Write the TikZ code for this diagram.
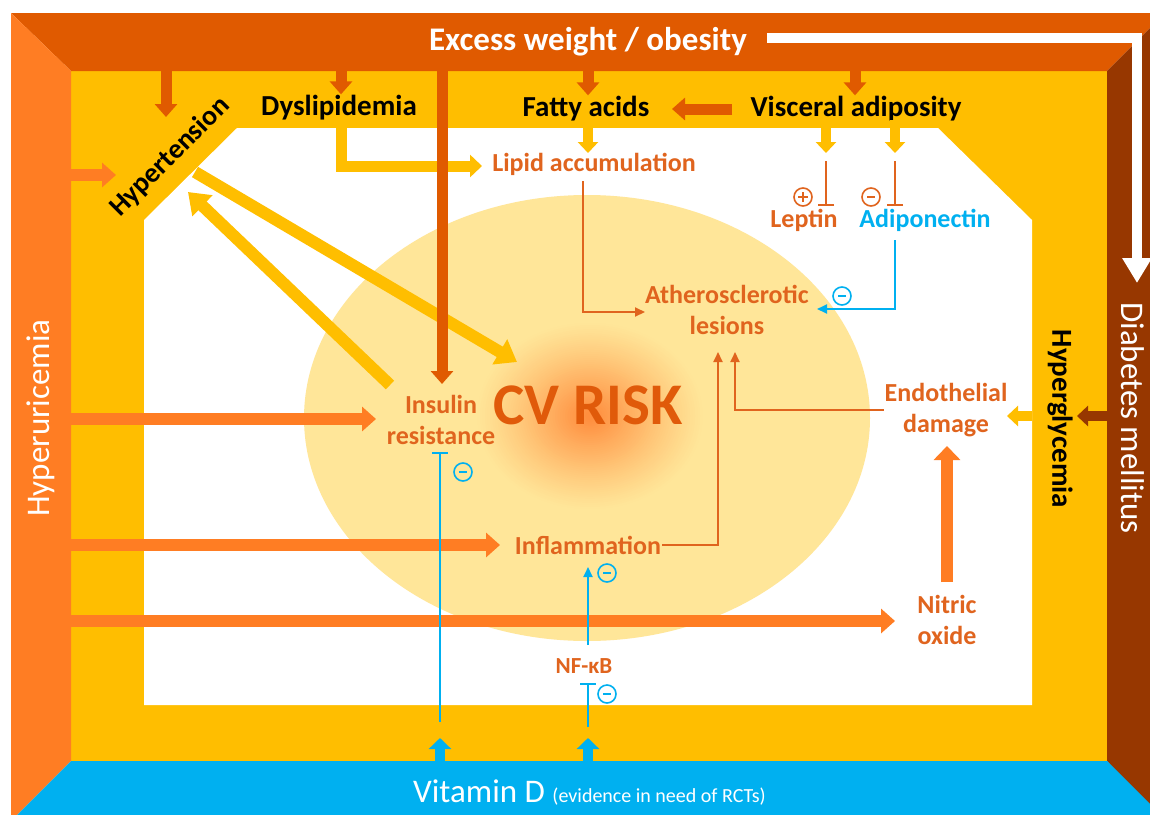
\documentclass[tikz,border=0pt]{standalone}
\usepackage{fontspec}
\setmainfont{Carlito}
\usetikzlibrary{arrows.meta}
\definecolor{topc}{HTML}{E05A00}
\definecolor{leftc}{HTML}{FF7D23}
\definecolor{yel}{HTML}{FFBE00}
\definecolor{brn}{HTML}{973700}
\definecolor{sky}{HTML}{00B0F0}
\definecolor{ell}{HTML}{FFE699}
\definecolor{lab}{HTML}{E0641E}
\definecolor{risk}{HTML}{E05A0A}
\definecolor{glowc}{HTML}{FF8A3A}
\begin{document}
\begin{tikzpicture}[x=1pt,y=-1pt,
  lbl/.style={text=lab, font=\fontsize{26}{31}\selectfont\bfseries, align=center, inner sep=1pt},
  blk/.style={text=black, font=\fontsize{29}{32}\selectfont\bfseries, inner sep=1pt},
  wlbl/.style={text=white, font=\fontsize{33}{36}\selectfont, inner sep=1pt},
  bigarr/.style={line width=11pt, -{Triangle[width=22pt,length=13pt]}},
  smarr/.style={line width=10pt, -{Triangle[width=20pt,length=11pt]}},
  yelarr/.style={yel, line width=12pt, -{Triangle[width=28pt,length=20pt]}},
  hyarr/.style={leftc, line width=12pt, -{Triangle[width=24pt,length=14pt]}},
  thinarr/.style={line width=2pt, -{Triangle[width=9pt,length=10pt]}},
  tbar/.style={line width=2pt, -{Bar[width=16pt]}},
  sgn/.style={circle, draw, line width=1.6pt, minimum size=18pt, inner sep=0pt},
  minus/.style={sgn, path picture={\draw[line width=1.6pt] ([xshift=-4pt]path picture bounding box.center) -- ([xshift=4pt]path picture bounding box.center);}},
  plus/.style={sgn, path picture={\draw[line width=1.6pt] ([xshift=-5pt]path picture bounding box.center) -- ([xshift=5pt]path picture bounding box.center) ([yshift=-5pt]path picture bounding box.center) -- ([yshift=5pt]path picture bounding box.center);}}
]
\useasboundingbox (0,0) rectangle (1150,814);
\clip (0,0) rectangle (1150,814);
% frame
\fill[white] (0,0) rectangle (1150,814);
\fill[yel] (71,71) rectangle (1107,761);
\fill[topc] (11,13) -- (1165,13) -- (1107,71) -- (71,71) -- cycle;
\fill[leftc] (11,13) -- (71,71) -- (71,761) -- (11,821) -- cycle;
\fill[brn] (1165,13) -- (1165,830) -- (1107,761) -- (1107,71) -- cycle;
\fill[sky] (11,821) -- (71,761) -- (1107,761) -- (1167,821) -- cycle;
\fill[white] (237,128) -- (938,128) -- (1032,220) -- (1032,705) -- (144,705) -- (144,220) -- cycle;
\fill[ell] (587,418) ellipse [x radius=283pt, y radius=223pt];
% glow
\foreach \i in {0,...,44}{
  \pgfmathsetmacro\rx{115*(1-\i/46)}
  \pgfmathsetmacro\ry{95*(1-\i/46)}
  \pgfmathsetmacro\p{95*(\i/44)^1.15}
  \fill[glowc!\p!ell] (590,416) ellipse [x radius=\rx pt, y radius=\ry pt];
}

% nodes
\node[wlbl, font=\fontsize{33}{36}\selectfont\bfseries] (excess) at (588,42) {Excess weight / obesity};
\node[blk] (dys) at (339,108) {Dyslipidemia};
\node[blk] (fatty) at (586,109) {Fatty acids};
\node[blk] (visc) at (856,109) {Visceral adiposity};
\node[blk, font=\fontsize{28}{30}\selectfont\bfseries, rotate=45] (hyper) at (170,157) {Hypertension};
\node[lbl] (lipid) at (594,164) {Lipid accumulation};
\node[lbl] (leptin) at (804,220) {Leptin};
\node[lbl, text=sky] (adipo) at (925,220) {Adiponectin};
\node[lbl] (ath) at (727,310) {Atherosclerotic\\lesions};
\node[lbl] (insul) at (441,420) {Insulin\\resistance};
\node[text=risk, font=\fontsize{59}{60}\selectfont\bfseries, inner sep=1pt] (cv) at (588,405) {CV RISK};
\node[lbl] (endo) at (946,410) {Endothelial\\damage};
\node[lbl] (infl) at (588,545) {Inflammation};
\node[lbl] (nitric) at (947,620) {Nitric\\oxide};
\node[lbl, font=\fontsize{23}{26}\selectfont\bfseries] (nfkb) at (584,666) {NF-κB};
\node[wlbl, rotate=90] (huric) at (41,418) {Hyperuricemia};
\node[blk, font=\fontsize{29}{30}\selectfont\bfseries, rotate=-90] (hglyc) at (1060,419) {Hyperglycemia};
\node[wlbl, rotate=-90] (dm) at (1133,418) {Diabetes mellitus};
\node[wlbl, anchor=base west] (vitd) at (412,802) {Vitamin D {\fontsize{20}{22}\selectfont (evidence in need of RCTs)}};

% coordinates
\coordinate (t1) at (166,71); \coordinate (t1e) at (166,117);
\coordinate (t2) at (341,71);
\coordinate (t3) at (588,71);
\coordinate (t4) at (855,71);
\coordinate (t5) at (442,71); \coordinate (t5e) at (442,384);
\coordinate (vs) at (732,109); \coordinate (ve) at (672,109);
\coordinate (ws) at (767,38); \coordinate (we) at (1137,283);
\coordinate (fa) at (588,120); \coordinate (fae) at (588,153);
\coordinate (dyst) at (341,120); \coordinate (lipw) at (482,166);
\coordinate (va1) at (826,120); \coordinate (va1e) at (826,153);
\coordinate (va2) at (895,120); \coordinate (va2e) at (895,153);
\coordinate (lb) at (826,161); \coordinate (lbe) at (826,206);
\coordinate (ab) at (895,161); \coordinate (abe) at (895,206);
\coordinate (athA) at (718,352); \coordinate (athB) at (735,352);
\coordinate (hu1) at (71,175); \coordinate (hu1e) at (116,175);
\coordinate (hu2) at (71,419); \coordinate (hu2e) at (376,419);
\coordinate (hu3) at (71,545); \coordinate (hu3e) at (500,545);
\coordinate (hu4) at (71,621); \coordinate (hu4e) at (895,621);
\coordinate (ha1) at (390,385); \coordinate (ha1e) at (188,192);
\coordinate (ha2) at (195,172); \coordinate (ha2e) at (517,362);
\coordinate (hg) at (1032,416); \coordinate (hge) at (1007,416);
\coordinate (dmb) at (1107,416); \coordinate (dmbe) at (1077,416);
\coordinate (no) at (947,582); \coordinate (noe) at (947,446);
\coordinate (vd1) at (440,761); \coordinate (vd1e) at (440,738);
\coordinate (vd2) at (588,761); \coordinate (vd2e) at (588,738);
\coordinate (vl1) at (440,722); \coordinate (vl1e) at (440,452);
\coordinate (vl2) at (588,727); \coordinate (vl2e) at (588,683);
\coordinate (nfa) at (588,645); \coordinate (nfae) at (588,567);
\coordinate (lipS) at (583,181); \coordinate (lipC) at (645,312);
\coordinate (adS) at (895,240); \coordinate (adC) at (817,309);

% white arrow
\draw[white, line width=10pt, -{Triangle[width=28pt,length=25pt]}] (ws) -| (we);

% yellow arrows
\draw[yel, line width=11pt, -{Triangle[width=22pt,length=12pt]}] (dyst) |- (lipw);
\draw[yel, smarr] (fa) -- (fae);
\draw[yel, smarr] (va1) -- (va1e);
\draw[yel, smarr] (va2) -- (va2e);
\draw[yelarr] (ha1) -- (ha1e);
\draw[yelarr] (ha2) -- (ha2e);
\draw[yel, smarr] (hg) -- (hge);
\draw[brn, smarr] (dmb) -- (dmbe);

% top arrows
\draw[topc, bigarr] (t1) -- (t1e);
\draw[topc, bigarr] (t2) -- (t2 |- dys.north);
\draw[topc, bigarr] (t3) -- (t3 |- fatty.north);
\draw[topc, bigarr] (t4) -- (t4 |- visc.north);
\draw[topc, bigarr] (t5) -- (t5e);
\draw[topc, bigarr] (vs) -- (ve);

% hyperuricemia arrows
\draw[hyarr] (hu1) -- (hu1e);
\draw[hyarr] (hu2) -- (hu2e);
\draw[hyarr] (hu3) -- (hu3e);
\draw[hyarr] (hu4) -- (hu4e);
\draw[leftc, line width=12pt, -{Triangle[width=26pt,length=14pt]}] (no) -- (noe);

% thin connectors
\draw[lab, tbar] (lb) -- (lbe);
\draw[lab, tbar] (ab) -- (abe);
\draw[lab, thinarr] (lipS) |- (lipC);
\draw[sky, thinarr] (adS) |- (adC);
\draw[lab, thinarr] (infl.east) -| (athA);
\draw[lab, thinarr] (endo.west) -| (athB);

% vitamin D
\draw[sky, line width=10pt, -{Triangle[width=22pt,length=11pt]}] (vd1) -- (vd1e);
\draw[sky, line width=10pt, -{Triangle[width=22pt,length=11pt]}] (vd2) -- (vd2e);
\draw[sky, tbar] (vl1) -- (vl1e);
\draw[sky, tbar] (vl2) -- (vl2e);
\draw[sky, thinarr] (nfa) -- (nfae);

% signs
\node[plus, draw=lab] (s1) at (803,197) {};
\node[minus, draw=lab] (s2) at (871,197) {};
\node[minus, draw=sky] (s3) at (842,296) {};
\node[minus, draw=sky] (s4) at (463,472) {};
\node[minus, draw=sky] (s5) at (607,573) {};
\node[minus, draw=sky] (s6) at (607,694) {};
\end{tikzpicture}
\end{document}
